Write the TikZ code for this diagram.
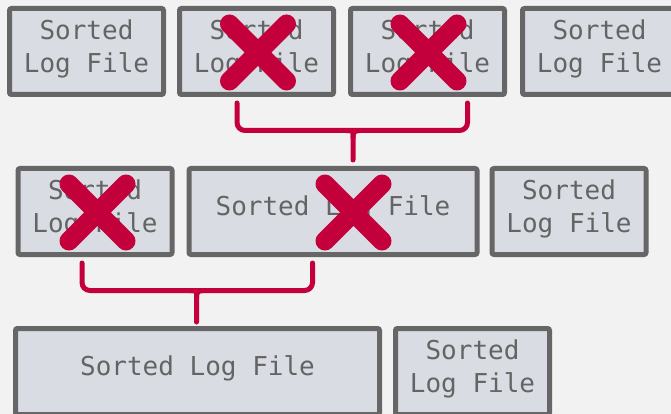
\documentclass[tikz,border=0pt]{standalone}
\usepackage{fontspec}
\setmonofont{DejaVu Sans Mono}
\usetikzlibrary{positioning,calc}
\definecolor{bgc}{HTML}{F2F2F2}
\definecolor{boxc}{HTML}{D9DCE3}
\definecolor{edgec}{HTML}{666666}
\definecolor{textc}{HTML}{646464}
\definecolor{killc}{HTML}{C4003C}
\newcommand{\strike}[1]{\draw[cross] (#1) ++(-28.5,-28.5) -- ++(57,57) (#1) ++(28.5,-28.5) -- ++(-57,57);}
\tikzset{
  logf/.style ={draw=edgec,line width=5pt,rounded corners=2pt,fill=boxc,
                inner sep=0pt,align=center,minimum width=154pt,minimum height=86pt,
                text=textc,font=\ttfamily\fontsize{26}{33}\selectfont,
                execute at end node={\rule[-11.5pt]{0pt}{0pt}}},
  brace/.style ={draw=killc,line width=5pt,line cap=round,rounded corners=8pt},
  cross/.style ={draw=killc,line width=19pt,line cap=round},
}
\begin{document}
\begin{tikzpicture}[x=1pt,y=-1pt,node distance=12pt]

\useasboundingbox (0,0) rectangle (671,414);
\fill[bgc] (0,0) rectangle (671,414);

% ---------- level 0: four sorted files ----------------------------------
\node[logf] (A) at (86.5,51.5) {Sorted\\Log File};
\node[logf,right=11pt of A] (B) {Sorted\\Log File};
\node[logf,right=of B] (C) {Sorted\\Log File};
\node[logf,right=13pt of C] (D) {Sorted\\Log File};

% ---------- level 1 -----------------------------------------------------
\node[logf] (E) at (95,211.5) {Sorted\\Log File};
\node[logf,right=of E,minimum width=288pt] (F) {Sorted Log File};
\node[logf,right=10pt of F] (G) {Sorted\\Log File};

% ---------- level 2 -----------------------------------------------------
\node[logf,minimum width=364pt] (H) at (197.5,371.5) {Sorted Log File};
\node[logf,right=11pt of H] (I) {Sorted\\Log File};

% ---------- merge B + C -> F ---------------------------------------------
\coordinate (m1a) at ($(B.south)+(-19.5,6)$);
\coordinate (m1b) at ($(C.south)+(40,6)$);
\coordinate (m1t) at ($(F.north)+(20,-6)$);
\coordinate (m1c) at ($(m1t)+(0,-29.5)$);
\draw[brace] (m1a) |- (m1c) -| (m1b);
\draw[brace] ($(m1c)+(-7,0)$) .. controls ($(m1c)+(-1,0)$) and ($(m1c)+(0,2)$) .. ($(m1c)+(0,7)$) -- (m1t);
\draw[brace] ($(m1c)+(7,0)$) .. controls ($(m1c)+(1,0)$) and ($(m1c)+(0,2)$) .. ($(m1c)+(0,7)$);

% ---------- merge E + F -> H ---------------------------------------------
\coordinate (m2a) at ($(E.south)+(-13,6)$);
\coordinate (m2b) at ($(F.south)+(-20.5,6)$);
\coordinate (m2t) at ($(H.north)+(-1,-4)$);
\coordinate (m2c) at ($(m2t)+(0,-31.5)$);
\draw[brace] (m2a) |- (m2c) -| (m2b);
\draw[brace] ($(m2c)+(-7,0)$) .. controls ($(m2c)+(-1,0)$) and ($(m2c)+(0,2)$) .. ($(m2c)+(0,7)$) -- (m2t);
\draw[brace] ($(m2c)+(7,0)$) .. controls ($(m2c)+(1,0)$) and ($(m2c)+(0,2)$) .. ($(m2c)+(0,7)$);

% ---------- merged away --------------------------------------------------
\strike{$(B.center)+(1.5,1)$}
\strike{$(C.center)+(1,1)$}
\strike{$(E.center)+(2.5,1)$}
\strike{$(F.center)+(20.5,1)$}

\end{tikzpicture}
\end{document}
